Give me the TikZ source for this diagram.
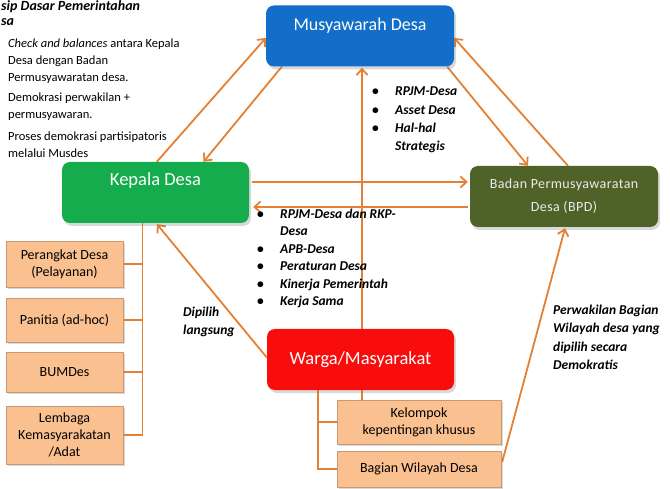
\documentclass[tikz,border=0pt]{standalone}
\usepackage{fontspec}
\setmainfont{Carlito}
\usetikzlibrary{arrows.meta,calc,shadows,backgrounds}
\definecolor{linkc}{RGB}{228,128,52}
\definecolor{musyblue}{RGB}{18,110,200}
\definecolor{kdgreen}{RGB}{20,172,76}
\definecolor{bpdolive}{RGB}{79,98,40}
\definecolor{wred}{RGB}{248,12,12}
\definecolor{subor}{RGB}{250,192,144}
\tikzset{
  mainbox/.style={draw=none, rounded corners=8pt, minimum width=188pt, minimum height=61pt,
    drop shadow={shadow xshift=2pt,shadow yshift=-3pt,opacity=0.3}},
  subbox/.style={fill=subor, draw=subor!80!black, line width=0.4pt, align=center, minimum width=117pt,
    font=\fontsize{14}{17}\selectfont, inner sep=2pt,
    drop shadow={shadow xshift=2pt,shadow yshift=-2pt,opacity=0.3}},
  link/.style={draw=linkc, line width=1.8pt},
  arr/.style={link, -{Straight Barb[length=6pt,width=11pt]}},
  note/.style={align=left, inner sep=0pt, anchor=west},
}
\newcommand{\bul}{\makebox[23pt][l]{\upshape\textbullet}}
\begin{document}
\begin{tikzpicture}[x=1pt,y=-1pt]
\useasboundingbox (0,0) rectangle (670,489);
% main boxes
\node[mainbox, fill=musyblue] (musy) at (360,36) {};
\node[font=\fontsize{18}{20}\selectfont, text=white, inner sep=0pt] (musyT) at (360,26) {Musyawarah Desa};
\node[mainbox, fill=kdgreen, minimum width=187pt] (kd) at (155.5,192.5) {};
\node[font=\fontsize{18.5}{20}\selectfont, text=white, inner sep=0pt] (kdT) at (155.5,181) {Kepala Desa};
\node[mainbox, fill=bpdolive, text=white!85!gray, align=center,
      font=\fontsize{14}{23}\selectfont\addfontfeatures{LetterSpace=3}] (bpd) at (564,196.5) {Badan Permusyawaratan\\Desa (BPD)};
\node[mainbox, fill=wred, minimum width=187pt, text=white, font=\fontsize{18.5}{20}\selectfont] (warga) at (360.5,359.5) {Warga/Masyarakat};
% sub boxes
\node[subbox, minimum height=46pt] (perangkat) at (64.5,264) {Perangkat Desa\\(Pelayanan)};
\node[subbox, minimum height=44pt] (panitia) at (64.5,320) {Panitia (ad-hoc)};
\node[subbox, minimum height=40pt] (bumdes) at (64.5,372) {BUMDes};
\node[subbox, minimum height=58pt] (lembaga) at (64.5,435) {Lembaga\\Kemasyarakatan\\/Adat};
\node[subbox, minimum width=164pt, minimum height=44pt] (kelompok) at (419,422) {Kelompok\\kepentingan khusus};
\node[subbox, minimum width=164pt, minimum height=36pt] (bagian) at (419,469) {Bagian Wilayah Desa};
% texts
\node[note, font=\bfseries\itshape\fontsize{14}{17}\selectfont] (title1) at (1,7) {sip Dasar Pemerintahan};
\node[note, font=\bfseries\itshape\fontsize{14}{17}\selectfont] (title2) at (1,22) {sa};
\node[note, font=\fontsize{12.5}{17}\selectfont] (p1) at (8,61) {\textit{Check and balances} antara Kepala\\Desa dengan Badan\\Permusyawaratan desa.};
\node[note, font=\fontsize{12.5}{17}\selectfont] (p2) at (8,106.5) {Demokrasi perwakilan +\\permusyawaran.};
\node[note, font=\fontsize{12.5}{17}\selectfont] (p3) at (8,144.5) {Proses demokrasi partisipatoris\\melalui Musdes};
\node[note, font=\bfseries\itshape\fontsize{13.5}{18.3}\selectfont] (list1) at (372,119.5)
  {\begin{tabular}{@{}l@{}l@{}}\bul & RPJM-Desa\\ \bul & Asset Desa\\ \bul & Hal-hal\\ & Strategis\end{tabular}};
\node[note, font=\bfseries\itshape\fontsize{13.5}{17.5}\selectfont] (list2) at (257,258.5)
  {\begin{tabular}{@{}l@{}l@{}}\bul & RPJM-Desa dan RKP-\\ & Desa\\ \bul & APB-Desa\\ \bul & Peraturan Desa\\ \bul & Kinerja Pemerintah\\ \bul & Kerja Sama\end{tabular}};
\node[note, font=\bfseries\itshape\fontsize{13.5}{18.5}\selectfont] (perw) at (553,337.5) {Perwakilan Bagian\\Wilayah desa yang\\dipilih secara\\Demokratis};
\node[note, font=\bfseries\itshape\fontsize{13.5}{18}\selectfont] (dip) at (183,322) {Dipilih\\langsung};
% connectors
\coordinate (trunk) at ($(kd.south)+(-13,0)$);
\coordinate (wtrunk) at ($(warga.south)+(-42.5,0)$);
\begin{scope}[on background layer]
\draw[arr] ($(kd.north west)+(95,0)$) -- ($(musy.west)+(0,2)$);
\draw[arr] ($(musy.south west)+(16,0)$) -- ($(kd.north)+(48,0)$);
\draw[arr] ($(musy.south east)+(-7,0)$) -- ($(bpd.north)+(-36,0)$);
\draw[arr] ($(bpd.north)+(4,0)$) -- ($(musy.east)+(0,2)$);
\draw[arr] ($(kd.east)+(3,-10.5)$) -- ($(bpd.west)+(-2,-14.5)$);
\draw[arr] ($(bpd.west)+(-2,10.5)$) -- ($(kd.east)+(4,14.5)$);
\draw[arr] ($(warga.west)+(0,-2)$) -- ($(kd.south)+(1.5,1)$);
\draw[arr] ($(kelompok.north)+(-57,0)$) -- ($(musy.south)+(2,1)$);
\draw[arr] ($(bagian.east)+(1,-7)$) -- ($(bpd.south)+(1,1)$);
\draw[link] (trunk) |- (lembaga.east);
\draw[link] (perangkat.east) -- (perangkat.east -| trunk);
\draw[link] (panitia.east) -- (panitia.east -| trunk);
\draw[link] (bumdes.east) -- (bumdes.east -| trunk);
\draw[link] (wtrunk) |- (bagian.west);
\draw[link] (kelompok.west) -- (kelompok.west -| wtrunk);
\end{scope}
\end{tikzpicture}
\end{document}
